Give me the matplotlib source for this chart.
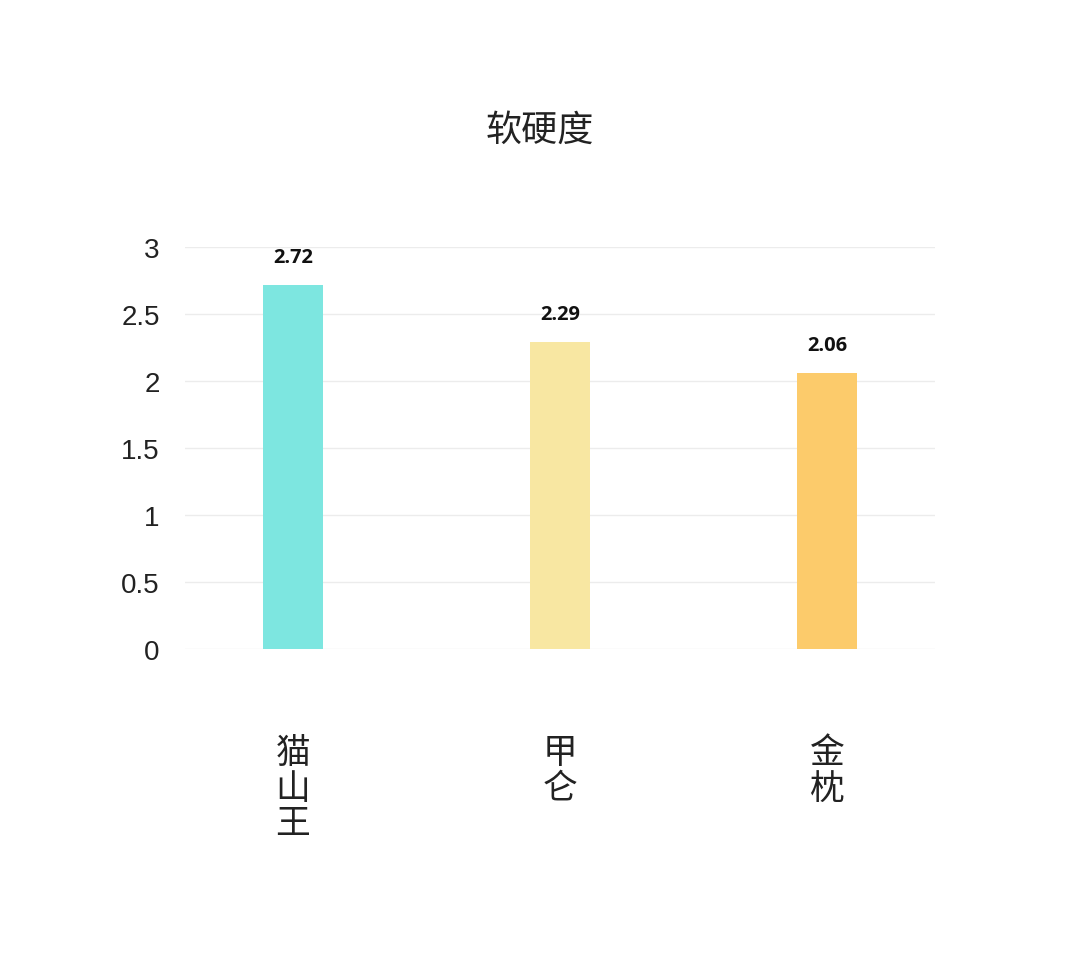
import matplotlib.pyplot as plt

plt.rcParams['font.family'] = ['Noto Sans CJK SC', 'DejaVu Sans']

## Chart data
categories = ["猫山王", "甲仑", "金枕"]
values = [2.72, 2.29, 2.06]
bar_colors = ["#7de6e0", "#f8e7a2", "#fccb6b"]
y_ticks = [0, 0.5, 1, 1.5, 2, 2.5, 3]
y_tick_labels = ["0", "0.5", "1", "1.5", "2", "2.5", "3"]

fig = plt.figure(figsize=(10.8, 9.54), dpi=100)
ax = fig.add_axes([0.171, 0.3187, 0.695, 0.4213])

x = list(range(len(categories)))
ax.bar(x, values, width=0.225, color=bar_colors, zorder=3)

## value labels above bars
for xi, v in zip(x, values):
    ax.annotate(f"{v:.2f}", (xi, v), xytext=(0, 20), textcoords="offset points",
                ha="center", va="center", fontsize=14.5, fontweight="bold",
                family=["Open Sans", "DejaVu Sans"], color="#111111")

ax.set_xlim(-0.405, 2.405)
ax.set_ylim(0, 3)
ax.set_yticks(y_ticks)
ax.set_yticklabels(y_tick_labels, family=["Liberation Sans", "DejaVu Sans"],
                   fontsize=20, color="#222222")
ax.set_xticks(x)
ax.set_xticklabels(["\n".join(c) for c in categories], fontsize=25,
                   color="#222222", linespacing=1.02, va="top", fontweight="light")
ax.tick_params(axis="x", length=0, pad=62)
ax.tick_params(axis="y", length=0, pad=18)

ax.grid(axis="y", color="#ececec", linewidth=1, zorder=0)
for s in ax.spines.values():
    s.set_visible(False)

fig.text(0.5, 0.863, "软硬度", ha="center", va="center", fontsize=26,
         color="#222222", fontweight="light")

fig.savefig("out.png", dpi=100, facecolor="white")
